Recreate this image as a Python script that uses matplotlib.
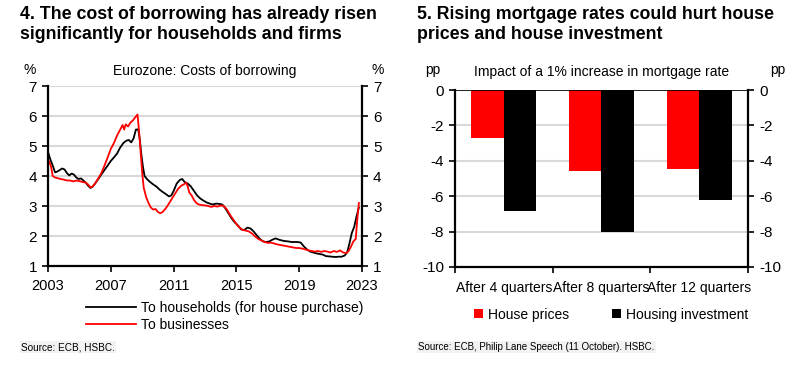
import numpy as np
import matplotlib
matplotlib.use('agg')
import matplotlib.pyplot as plt

plt.rcParams['font.family'] = ['Liberation Sans', 'DejaVu Sans']
plt.rcParams['axes.unicode_minus'] = False

# ---- chart 4: costs of borrowing (decimal years, %)
hh_years = [2003.0, 2003.15, 2003.3, 2003.45, 2003.6, 2003.75, 2003.9, 2004.05, 2004.2, 2004.35,
            2004.5, 2004.65, 2004.8, 2004.95, 2005.1, 2005.25, 2005.4, 2005.55, 2005.7, 2005.85,
            2006.0, 2006.2, 2006.4, 2006.6, 2006.8, 2007.0, 2007.2, 2007.4, 2007.6, 2007.8,
            2008.0, 2008.15, 2008.3, 2008.45, 2008.6, 2008.75, 2008.85, 2008.95, 2009.05, 2009.15,
            2009.3, 2009.5, 2009.7, 2009.9, 2010.1, 2010.3, 2010.5, 2010.7, 2010.85, 2011.0,
            2011.2, 2011.4, 2011.55, 2011.7, 2011.9, 2012.1, 2012.3, 2012.5, 2012.7, 2012.9,
            2013.1, 2013.3, 2013.5, 2013.7, 2013.9, 2014.1, 2014.3, 2014.5, 2014.7, 2014.9,
            2015.1, 2015.3, 2015.5, 2015.7, 2015.9, 2016.1, 2016.3, 2016.5, 2016.7, 2016.9,
            2017.1, 2017.3, 2017.5, 2017.7, 2017.9, 2018.1, 2018.3, 2018.5, 2018.7, 2018.9,
            2019.1, 2019.3, 2019.5, 2019.7, 2019.9, 2020.1, 2020.3, 2020.5, 2020.7, 2020.9,
            2021.1, 2021.3, 2021.5, 2021.7, 2021.9, 2022.05, 2022.2, 2022.35, 2022.5, 2022.65,
            2022.8]
households = [4.80, 4.55, 4.35, 4.12, 4.15, 4.20, 4.25, 4.22, 4.10, 4.02,
              4.08, 4.05, 3.95, 3.90, 3.92, 3.85, 3.78, 3.68, 3.60, 3.65,
              3.75, 3.90, 4.05, 4.20, 4.35, 4.50, 4.62, 4.75, 4.95, 5.10,
              5.18, 5.20, 5.12, 5.25, 5.55, 5.55, 5.20, 4.70, 4.30, 4.00,
              3.90, 3.80, 3.72, 3.65, 3.55, 3.47, 3.40, 3.32, 3.35, 3.50,
              3.75, 3.87, 3.90, 3.80, 3.75, 3.65, 3.50, 3.35, 3.25, 3.18,
              3.12, 3.08, 3.05, 3.08, 3.07, 3.05, 2.92, 2.75, 2.58, 2.45,
              2.35, 2.22, 2.20, 2.28, 2.25, 2.15, 2.02, 1.90, 1.82, 1.80,
              1.82, 1.88, 1.92, 1.88, 1.85, 1.83, 1.82, 1.80, 1.80, 1.80,
              1.78, 1.65, 1.55, 1.48, 1.45, 1.42, 1.40, 1.38, 1.33, 1.32,
              1.31, 1.30, 1.31, 1.31, 1.35, 1.45, 1.75, 2.10, 2.30, 2.65,
              2.95]

bus_years = [2003.0, 2003.1, 2003.2, 2003.3, 2003.45, 2003.6, 2003.8, 2004.0, 2004.2, 2004.4,
             2004.6, 2004.8, 2005.0, 2005.2, 2005.4, 2005.55, 2005.7, 2005.85, 2006.0, 2006.2,
             2006.4, 2006.6, 2006.8, 2007.0, 2007.2, 2007.4, 2007.6, 2007.75, 2007.85, 2007.95,
             2008.1, 2008.25, 2008.4, 2008.55, 2008.7, 2008.8, 2008.9, 2009.0, 2009.1, 2009.25,
             2009.4, 2009.55, 2009.7, 2009.85, 2010.0, 2010.15, 2010.3, 2010.5, 2010.7, 2010.9,
             2011.1, 2011.3, 2011.5, 2011.65, 2011.8, 2011.9, 2012.0, 2012.15, 2012.3, 2012.45,
             2012.6, 2012.8, 2013.0, 2013.2, 2013.4, 2013.6, 2013.8, 2014.0, 2014.2, 2014.4,
             2014.6, 2014.8, 2015.0, 2015.2, 2015.4, 2015.6, 2015.8, 2016.0, 2016.2, 2016.4,
             2016.6, 2016.8, 2017.0, 2017.2, 2017.4, 2017.6, 2017.8, 2018.0, 2018.2, 2018.4,
             2018.6, 2018.8, 2019.0, 2019.2, 2019.4, 2019.6, 2019.8, 2020.0, 2020.2, 2020.4,
             2020.6, 2020.8, 2021.0, 2021.2, 2021.4, 2021.6, 2021.8, 2022.0, 2022.15, 2022.3,
             2022.45, 2022.6, 2022.7, 2022.8]
businesses = [4.55, 4.45, 4.30, 4.00, 3.95, 3.93, 3.90, 3.88, 3.85, 3.85,
              3.82, 3.85, 3.83, 3.80, 3.78, 3.72, 3.62, 3.65, 3.75, 3.92,
              4.10, 4.35, 4.62, 4.90, 5.10, 5.35, 5.55, 5.70, 5.55, 5.72,
              5.65, 5.78, 5.85, 5.95, 6.05, 5.50, 4.80, 4.10, 3.60, 3.30,
              3.10, 2.95, 2.88, 2.90, 2.80, 2.76, 2.80, 2.92, 3.08, 3.25,
              3.42, 3.58, 3.68, 3.72, 3.78, 3.65, 3.45, 3.35, 3.20, 3.10,
              3.05, 3.03, 3.02, 3.00, 2.97, 3.00, 2.98, 3.02, 3.00, 2.88,
              2.70, 2.55, 2.40, 2.28, 2.20, 2.18, 2.15, 2.08, 1.98, 1.90,
              1.85, 1.80, 1.77, 1.78, 1.75, 1.72, 1.70, 1.68, 1.66, 1.64,
              1.62, 1.60, 1.60, 1.58, 1.55, 1.52, 1.50, 1.48, 1.50, 1.47,
              1.50, 1.48, 1.45, 1.50, 1.47, 1.52, 1.45, 1.43, 1.50, 1.65,
              1.82, 1.90, 2.55, 3.10]

year_ticks = [2003, 2007, 2011, 2015, 2019, 2023]

# ---- chart 5: impact of 1% increase in mortgage rate (pp)
horizons = ['After 4 quarters', 'After 8 quarters', 'After 12 quarters']
house_prices = [-2.7, -4.6, -4.45]
housing_investment = [-6.85, -8.0, -6.2]

RED = '#ff0000'
GRID = '#d9d9d9'
FS = 10

fig = plt.figure(figsize=(8.03, 3.75), dpi=100)

def style_axes(ax):
    ax.spines['top'].set_visible(False)
    for s in ['left', 'right', 'bottom']:
        ax.spines[s].set_linewidth(1.6)
        ax.spines[s].set_color('black')
    ax.tick_params(axis='y', which='both', left=True, right=True, labelleft=True,
                   labelright=True, direction='out', length=4, width=1.2,
                   labelsize=11, pad=4)
    ax.tick_params(axis='x', direction='out', length=4, width=1.2, labelsize=10.5, pad=5)
    ax.grid(axis='y', color=GRID, linewidth=1.5)
    ax.set_axisbelow(True)

# left chart
ax1 = fig.add_axes([48 / 803, 1 - 266 / 375, 314 / 803, 180 / 375])
ax1.plot(hh_years, households, color='black', lw=1.3, label='To households (for house purchase)')
ax1.plot(bus_years, businesses, color=RED, lw=1.3, label='To businesses')
ax1.set_xlim(2003, 2023)
ax1.set_ylim(1, 7)
ax1.set_xticks(year_ticks)
ax1.set_yticks(range(1, 8))
style_axes(ax1)
ax1.set_title('Eurozone: Costs of borrowing', fontsize=FS, pad=8)
ax1.text(-0.058, 1.088, '%', transform=ax1.transAxes, fontsize=FS, ha='center', va='center')
ax1.text(1.05, 1.088, '%', transform=ax1.transAxes, fontsize=FS, ha='center', va='center')
ax1.legend(loc='upper left', bbox_to_anchor=(0.1, -0.155), frameon=False, fontsize=FS,
           handlelength=3.6, handletextpad=0.35, labelspacing=0.25, borderpad=0)

# right chart
ax2 = fig.add_axes([455 / 803, 1 - 267 / 375, 293 / 803, 177 / 375])
x = np.arange(len(horizons))
w = 1 / 3
ax2.bar(x - w / 2, house_prices, width=w, color=RED, label='House prices')
ax2.bar(x + w / 2, housing_investment, width=w, color='black', label='Housing investment')
ax2.set_xlim(-0.5, 2.5)
ax2.set_ylim(-10, 0)
ax2.set_yticks(range(-10, 1, 2))
style_axes(ax2)
ax2.axhline(0, color='black', lw=1.2)
ax2.set_xticks([-0.5, 0.5, 1.5, 2.5])
ax2.set_xticklabels([])
ax2.set_xticks(x, minor=True)
ax2.set_xticklabels(horizons, minor=True)
ax2.tick_params(axis='x', which='minor', length=0, labelsize=FS, pad=10)
ax2.set_title('Impact of a 1% increase in mortgage rate', fontsize=FS, pad=10)
ax2.text(-0.075, 1.115, 'pp', transform=ax2.transAxes, fontsize=FS, ha='center', va='center')
ax2.text(1.1, 1.115, 'pp', transform=ax2.transAxes, fontsize=FS, ha='center', va='center')
ax2.legend(loc='upper left', bbox_to_anchor=(0.04, -0.19), ncol=2, frameon=False, fontsize=FS,
           handlelength=0.65, handleheight=0.65, handletextpad=0.35, columnspacing=3.1, borderpad=0)

# titles
fig.text(20 / 803, 1 - 6 / 375, '4. The cost of borrowing has already risen\nsignificantly for households and firms',
         fontsize=12.8, fontweight='bold', va='top', ha='left', linespacing=1.22)
fig.text(417 / 803, 1 - 6 / 375, '5. Rising mortgage rates could hurt house\nprices and house investment',
         fontsize=12.8, fontweight='bold', va='top', ha='left', linespacing=1.22)

# sources
src_box = dict(facecolor='#f2f2f2', edgecolor='none', pad=1)
fig.text(21 / 803, 1 - 347 / 375, 'Source: ECB, HSBC.', fontsize=7.2, va='center', bbox=src_box)
fig.text(418 / 803, 1 - 347 / 375, 'Source: ECB, Philip Lane Speech (11 October). HSBC.', fontsize=7,
         va='center', bbox=src_box)

fig.savefig('out.png', dpi=100)
plt.close(fig)
